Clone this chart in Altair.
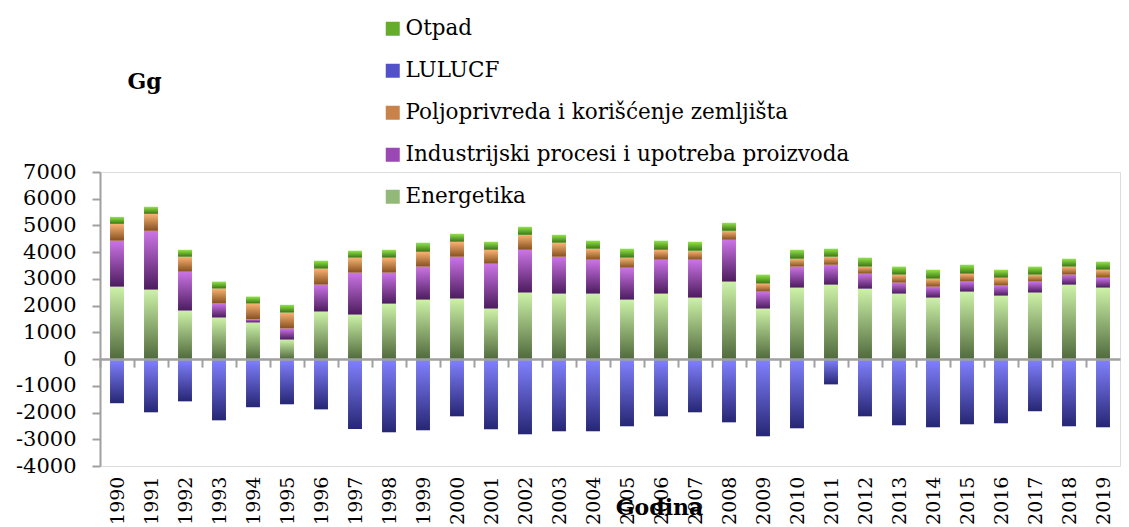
import altair as alt
import pandas as pd

years = ["1990", "1991", "1992", "1993", "1994", "1995", "1996", "1997", "1998", "1999",
         "2000", "2001", "2002", "2003", "2004", "2005", "2006", "2007", "2008", "2009",
         "2010", "2011", "2012", "2013", "2014", "2015", "2016", "2017", "2018", "2019"]

energetika = [2710, 2600, 1815, 1555, 1370, 730, 1780, 1665, 2075, 2225,
              2265, 1890, 2490, 2450, 2450, 2225, 2450, 2300, 2900, 1890,
              2675, 2785, 2635, 2450, 2300, 2525, 2375, 2490, 2785, 2675]
industrija = [1720, 2200, 1455, 525, 120, 415, 1005, 1570, 1160, 1235,
              1565, 1680, 1600, 1380, 1270, 1195, 1270, 1420, 1565, 635,
              785, 745, 560, 410, 410, 375, 375, 410, 375, 370]
poljoprivreda = [630, 635, 560, 560, 590, 595, 600, 560, 560, 555,
                 560, 520, 560, 525, 410, 375, 370, 335, 335, 300,
                 295, 300, 265, 300, 300, 295, 295, 260, 300, 300]
otpad = [260, 265, 260, 260, 260, 290, 295, 260, 295, 340,
         300, 300, 300, 295, 300, 335, 340, 335, 300, 335,
         335, 300, 335, 300, 335, 335, 300, 300, 295, 300]
lulucf = [-1650, -1990, -1580, -2290, -1800, -1690, -1880, -2620, -2735, -2660,
          -2140, -2625, -2810, -2700, -2700, -2510, -2140, -1990, -2365, -2885,
          -2590, -945, -2140, -2475, -2550, -2440, -2400, -1950, -2510, -2550]

S_OTPAD = "Otpad"
S_LULUCF = "LULUCF"
S_POLJ = "Poljoprivreda i korišćenje zemljišta"
S_IND = "Industrijski procesi i upotreba proizvoda"
S_ENER = "Energetika"
legend_order = [S_OTPAD, S_LULUCF, S_POLJ, S_IND, S_ENER]
legend_colors = ["#64ad2c", "#5252c8", "#c9834a", "#9a48b4", "#93b978"]

# build stacked table (positive stack: energy, industry, agriculture, waste)
rows = []
for i, yr in enumerate(years):
    base = 0
    for name, vals in [(S_ENER, energetika), (S_IND, industrija), (S_POLJ, poljoprivreda), (S_OTPAD, otpad)]:
        rows.append({"year": yr, "series": name, "lo": base, "hi": base + vals[i]})
        base += vals[i]
    rows.append({"year": yr, "series": S_LULUCF, "lo": 0, "hi": lulucf[i]})
df = pd.DataFrame(rows)
legend_df = pd.DataFrame({"year": [years[0]] * 5, "series": legend_order, "lo": [0] * 5})

W, H = 1020, 294
STEP = W / len(years)
YMIN, YMAX = -4000, 7000
ZERO_FROM_BOTTOM = H * (0 - YMIN) / (YMAX - YMIN)
FONT = "DejaVu Serif"
GRAY = "#a0a0a0"

x_enc = alt.X(
    "year:N",
    sort=years,
    scale=alt.Scale(paddingInner=0.59, paddingOuter=0.295),
    axis=alt.Axis(
        title="Godina", labelAngle=-90, labelFontSize=19, labelFont=FONT, labelColor="#000000",
        offset=-ZERO_FROM_BOTTOM, domainColor=GRAY, domainWidth=2.5,
        ticks=True, tickColor=GRAY, tickWidth=2, tickSize=8,
        tickOffset=-STEP / 2, labelOffset=STEP / 2,
        labelPadding=109, zindex=1,
        titleFont=FONT, titleFontSize=22, titleFontWeight="bold", titleColor="#000000",
        titleX=559, titleY=155, titleBaseline="alphabetic",
    ),
)
y_axis = alt.Axis(
    title="Gg", values=list(range(YMIN, YMAX + 1, 1000)), labelExpr="toString(datum.value)",
    grid=False,
    labelFontSize=21, labelFont=FONT, labelColor="#000000", labelPadding=16,
    domainColor=GRAY, domainWidth=2, tickColor=GRAY, tickWidth=2, tickSize=8,
    titleAngle=0, titleX=27, titleY=-84, titleAlign="left", titleBaseline="alphabetic",
    titleFont=FONT, titleFontSize=22, titleFontWeight="bold", titleColor="#000000",
)
y_scale = alt.Scale(domain=[YMIN, YMAX], nice=False, zero=False)


def grad(top, bottom):
    return alt.LinearGradient(
        gradient="linear",
        stops=[alt.GradientStop(color=top, offset=0), alt.GradientStop(color=bottom, offset=1)],
        x1=0, x2=0, y1=0, y2=1,
    )


gradients = {
    S_ENER: grad("#cdf2a8", "#506a3c"),
    S_IND: grad("#cc74e6", "#4c1c5e"),
    S_POLJ: grad("#f9b474", "#86501e"),
    S_OTPAD: grad("#92e44c", "#3a7610"),
    S_LULUCF: grad("#8282ff", "#262674"),
}

base = alt.Chart(df)
layers = []

# soft shadow under LULUCF bars
layers.append(
    base.transform_filter(alt.datum.series == S_LULUCF)
    .mark_bar(color="#bdbdbd", opacity=0.5, yOffset=6)
    .encode(x=x_enc, y=alt.Y("lo:Q", scale=y_scale, axis=y_axis), y2="hi:Q")
)

for name in [S_LULUCF, S_ENER, S_IND, S_POLJ, S_OTPAD]:
    layers.append(
        base.transform_filter(alt.datum.series == name)
        .mark_bar(color=gradients[name])
        .encode(x=x_enc, y=alt.Y("lo:Q", scale=y_scale, axis=y_axis), y2="hi:Q")
    )

legend_layer = (
    alt.Chart(legend_df)
    .mark_bar()
    .encode(
        x=x_enc,
        y=alt.Y("lo:Q", scale=y_scale, axis=y_axis, stack=None),
        color=alt.Color(
            "series:N",
            scale=alt.Scale(domain=legend_order, range=legend_colors),
            legend=alt.Legend(
                title=None, orient="none", legendX=282, legendY=-154, direction="vertical",
                symbolType="square", symbolSize=196, symbolStrokeWidth=0,
                labelFont=FONT, labelFontSize=21.5, labelColor="#000000", labelOffset=2,
                rowPadding=19, padding=0, labelLimit=600,
            ),
        ),
    )
)
layers.append(legend_layer)

chart = (
    alt.layer(*layers)
    .properties(
        width=W, height=H,
        autosize=alt.AutoSizeParams(type="none"),
        padding={"left": 92, "top": 164, "right": 1, "bottom": 58},
        background="#ffffff",
    )
    .configure_view(stroke=None)
    .configure(font=FONT)
)

chart.save("out.html", embed_options={"renderer": "svg", "actions": False})
